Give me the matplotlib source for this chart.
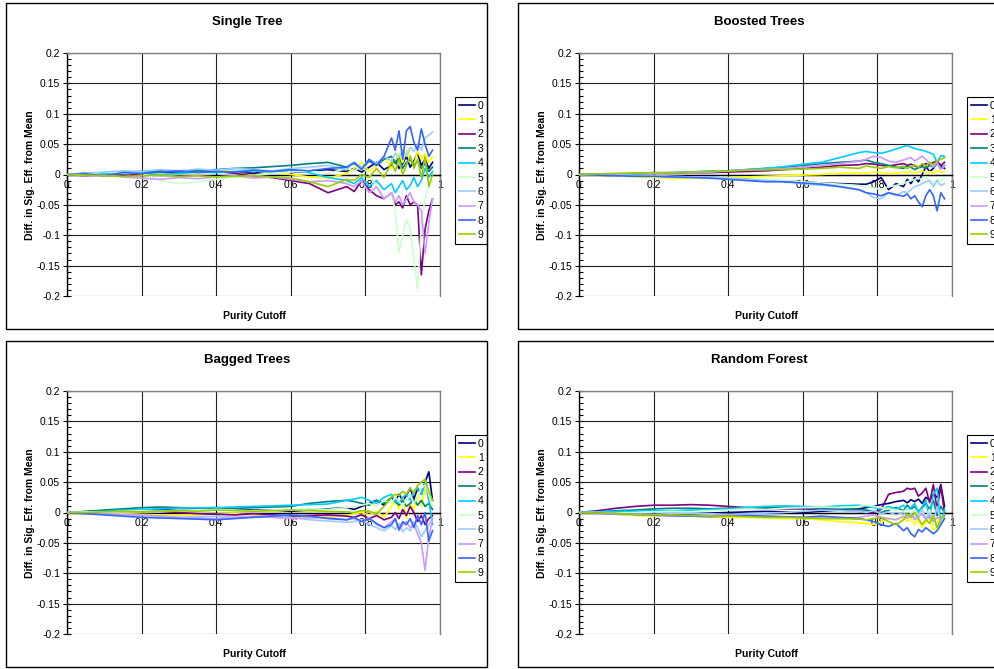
import matplotlib
matplotlib.use('Agg')
import matplotlib.pyplot as plt
from matplotlib.patches import Rectangle
from matplotlib.ticker import MultipleLocator

plt.rcParams['font.family'] = ['Liberation Sans', 'DejaVu Sans']

# purity cutoff points shared by every series
X = [0.00, 0.05, 0.10, 0.15, 0.20, 0.25, 0.30, 0.35, 0.40, 0.45, 0.50, 0.55,
     0.60, 0.65, 0.70, 0.75, 0.77, 0.79, 0.81, 0.83, 0.85, 0.87, 0.88, 0.89,
     0.90, 0.91, 0.92, 0.93, 0.94, 0.95, 0.96, 0.97, 0.98]

SERIES_NAMES = ['0', '1', '2', '3', '4', '5', '6', '7', '8', '9']
COLORS = ['#000080', '#FFFF00', '#800080', '#008080', '#00CCFF',
          '#CCFFCC', '#99CCFF', '#CC99FF', '#3366FF', '#99CC00']

X_TICKS = [0, 0.2, 0.4, 0.6, 0.8, 1]
X_TICK_LABELS = ['0', '0.2', '0.4', '0.6', '0.8', '1']
Y_TICKS = [0.2, 0.15, 0.1, 0.05, 0, -0.05, -0.1, -0.15, -0.2]
Y_TICK_LABELS = ['0.2', '0.15', '0.1', '0.05', '0', '-0.05', '-0.1', '-0.15', '-0.2']

single_tree = [
    [0, .002, .003, .001, .004, .005, .003, .004, .006, .004, .002, .005, .003, .006, .008, .005, .010,
     .004, .012, .020, .008, .015, .025, .010, .018, .030, .012, .022, .035, .015, .025, .010, .020],
    [0, .001, .003, .002, .004, .003, .005, .006, .008, .004, .006, .003, .000, -.004, -.006, .002, .010,
     .020, .005, .015, .030, .010, .025, .035, .020, .040, .030, .015, .038, .025, .035, .020, .030],
    [0, -.002, .001, -.003, .002, .004, .003, .006, .005, .002, -.003, -.005, -.010, -.015, -.030, -.020, -.028,
     -.010, -.025, -.035, -.040, -.030, -.050, -.045, -.055, -.035, -.050, -.045, -.050, -.165, -.090, -.060, -.040],
    [0, .001, .002, .004, .005, .006, .005, .007, .008, .010, .011, .013, .015, .018, .020, .012, .018,
     .010, .022, .015, .025, .030, .018, .028, .010, .020, .025, .015, .022, .010, .018, .005, .012],
    [0, .002, .001, .003, .002, .000, .002, .004, .003, .005, .006, .004, .008, .003, -.005, -.010, -.015,
     -.005, -.020, -.010, -.025, -.015, -.030, -.020, -.010, -.025, -.018, -.005, -.020, -.010, .010, -.005, .005],
    [0, .001, .004, .002, .003, -.010, -.015, -.012, -.008, -.004, -.002, .002, .004, .006, .002, .010, .005,
     .015, .000, -.020, -.040, -.030, -.060, -.128, -.100, -.074, -.090, -.140, -.190, -.080, -.040, -.020, -.010],
    [0, .002, .004, .006, .005, .008, .006, .009, .007, .010, .008, .006, .010, .012, .015, .008, .020,
     .012, .025, .018, .030, .022, .035, .028, .040, .030, .045, .038, .050, .040, .060, .065, .070],
    [0, -.002, -.001, -.004, -.006, -.008, -.005, -.007, -.004, -.002, -.006, -.004, -.008, -.012, -.010, -.015, -.020,
     -.010, -.030, -.020, -.040, -.030, -.045, -.035, -.050, -.040, -.030, -.045, -.050, -.060, -.130, -.080, -.040],
    [0, .001, -.002, .003, .002, .004, .006, .003, .005, .004, .007, .005, .008, .006, .010, .012, .020,
     .008, .025, .015, .030, .060, .040, .072, .025, .072, .079, .053, .040, .075, .050, .030, .040],
    [0, -.001, -.002, -.003, -.002, -.001, -.003, -.002, -.004, -.003, -.002, -.004, -.006, -.012, -.020, -.008, -.010,
     .000, -.005, .010, -.005, .020, .005, .025, .000, .015, .030, .010, .025, -.005, .030, -.020, .000],
]

boosted_trees = [
    [0, -.001, -.002, -.002, -.003, -.003, -.004, -.005, -.006, -.008, -.010, -.011, -.012, -.014, -.015, -.016, -.016,
     -.012, -.005, -.025, -.015, -.020, -.008, -.015, -.005, -.012, .000, .013, .005, .010, .020, .015, .010],
    [0, -.001, -.002, -.004, -.005, -.006, -.006, -.006, -.005, -.004, -.003, -.002, -.001, .000, .002, .003, .002,
     .004, .003, .001, .002, .004, .003, .005, .002, .004, .006, .003, .005, .002, .006, .004, .005],
    [0, .000, .001, .001, .002, .002, .003, .003, .004, .005, .006, .008, .010, .012, .015, .016, .018,
     .017, .015, .014, .016, .018, .015, .017, .014, .012, .015, .018, .016, .020, .022, .015, .020],
    [0, .001, .001, .002, .003, .003, .004, .004, .006, .008, .010, .012, .015, .018, .020, .022, .024,
     .020, .018, .015, .012, .010, .014, .012, .008, .011, .013, .010, .015, .012, .018, .010, .015],
    [0, .000, .001, .001, .002, .003, .004, .006, .006, .008, .010, .013, .017, .020, .028, .036, .038,
     .036, .035, .038, .042, .046, .048, .045, .043, .041, .040, .038, .036, .033, .020, .031, .030],
    [0, -.001, -.001, -.002, -.002, -.003, -.004, -.005, -.006, -.008, -.008, -.010, -.012, -.014, -.016, -.018, -.020,
     -.022, -.025, -.020, -.018, -.015, -.012, -.010, -.008, -.006, -.008, -.004, -.010, -.015, -.008, -.010, -.005],
    [0, -.001, -.002, -.002, -.003, -.004, -.004, -.005, -.006, -.008, -.010, -.012, -.015, -.018, -.020, -.025, -.030,
     -.038, -.040, -.030, -.035, -.028, -.030, -.025, -.020, -.018, -.015, -.012, -.010, -.020, -.010, -.018, -.015],
    [0, .000, .001, .002, .002, .003, .003, .004, .006, .008, .008, .010, .012, .015, .018, .022, .025,
     .030, .028, .022, .020, .024, .026, .028, .022, .026, .030, .025, .018, .012, .020, .008, .015],
    [0, -.001, -.002, -.003, -.003, -.004, -.005, -.006, -.008, -.010, -.012, -.012, -.014, -.016, -.020, -.025, -.030,
     -.032, -.035, -.030, -.033, -.036, -.032, -.040, -.035, -.045, -.053, -.035, -.025, -.035, -.060, -.030, -.040],
    [0, .001, .002, .002, .003, .003, .004, .005, .006, .007, .008, .008, .009, .010, .012, .010, .014,
     .012, .010, .013, .011, .014, .010, .013, .016, .012, .018, .014, .020, .016, .022, .025, .028],
]

bagged_trees = [
    [0, .001, .003, .002, .004, .005, .006, .007, .008, .006, .004, .003, .002, .004, .006, .008, .005,
     .010, .015, .020, .012, .025, .018, .030, .020, .028, .040, .022, .040, .030, .050, .067, .020],
    [0, .000, -.001, -.002, -.003, -.004, -.005, -.004, -.003, -.002, -.004, -.006, -.005, -.008, -.006, -.005, -.002,
     .000, -.004, .002, -.008, .010, .020, .005, .025, -.010, .015, .005, .030, .010, .040, .020, .010],
    [0, .001, .003, .005, .004, .002, .000, -.002, -.003, -.004, -.002, -.004, -.006, -.005, -.004, -.006, -.008,
     -.004, -.010, -.005, -.012, -.008, .000, -.010, .005, -.005, .010, .000, -.015, -.005, -.020, -.010, -.005],
    [0, .002, .004, .006, .008, .009, .008, .007, .006, .007, .008, .009, .010, .015, .018, .020, .018,
     .015, .012, .020, .015, .025, .018, .012, .020, .010, .015, .022, .012, .020, .010, .015, .005],
    [0, .001, .002, .004, .005, .006, .007, .008, .008, .009, .010, .011, .012, .013, .014, .020, .022,
     .025, .020, .015, .025, .030, .020, .015, .025, .030, .020, .035, .040, .030, .050, .020, -.020],
    [0, .001, .000, .002, .003, .002, .004, .003, .005, .004, .003, .002, .004, .006, .005, .008, .010,
     .012, .015, .010, .020, .015, .025, .018, .012, .020, .030, .015, .025, .040, .045, .030, .010],
    [0, -.001, -.003, -.004, -.005, -.006, -.008, -.007, -.006, -.008, -.007, -.006, -.008, -.012, -.014, -.016, -.015,
     -.012, -.020, -.025, -.030, -.022, -.028, -.018, -.032, -.025, -.030, -.015, -.025, -.040, -.030, -.020, -.010],
    [0, -.001, -.002, -.003, -.004, -.006, -.008, -.009, -.010, -.008, -.006, -.008, -.010, -.009, -.008, -.012, -.010,
     -.015, -.008, -.020, -.025, -.015, -.010, -.030, -.020, -.015, -.025, -.020, -.035, -.050, -.095, -.040, -.010],
    [0, -.002, -.004, -.006, -.008, -.009, -.010, -.011, -.012, -.010, -.008, -.006, -.004, -.006, -.010, -.012, -.008,
     -.015, -.010, -.018, -.025, -.020, -.010, -.028, -.015, -.020, -.010, -.025, -.005, -.020, .000, -.047, -.030],
    [0, .000, .001, .002, .001, .002, .003, .002, .004, .003, .002, .003, .004, .003, .002, .001, .000,
     .003, .002, -.002, .010, .025, .030, .028, .035, .030, .040, .032, .045, .050, .055, .035, .020],
]

random_forest = [
    [0, .000, -.001, -.002, -.002, -.003, -.002, -.001, .000, .001, .002, .001, .000, .002, .004, .006, .008,
     .010, .013, .015, .018, .020, .016, .021, .018, .022, .015, .025, .020, .030, .025, .046, .010],
    [0, -.001, -.003, -.005, -.006, -.005, -.006, -.007, -.008, -.008, -.009, -.010, -.010, -.012, -.015, -.017, -.018,
     -.020, -.015, -.010, -.012, -.008, -.015, -.010, -.020, -.012, -.025, -.015, -.010, -.030, -.015, -.005, -.010],
    [0, .003, .007, .010, .012, .012, .013, .012, .010, .008, .007, .006, .006, .005, .004, .002, .000,
     .000, .005, .030, .033, .035, .040, .038, .040, .027, .032, .040, .016, .046, .005, .043, .000],
    [0, .001, .003, .004, .006, .007, .007, .006, .007, .008, .008, .009, .008, .007, .006, .005, .004,
     .002, .000, .004, .008, .003, .012, .006, .010, .002, .008, .015, .005, .020, -.005, .010, .000],
    [0, .001, .002, .002, .003, .003, .004, .005, .006, .008, .010, .011, .010, .009, .011, .012, .010,
     .008, .006, .010, .005, .012, .004, .008, .015, .000, .010, .020, -.010, .030, .040, -.020, .005],
    [0, .000, -.001, .000, .001, .002, .001, .003, .004, .006, .005, .007, .008, .009, .008, .010, .012,
     .010, .008, .006, .004, .002, .006, -.002, .004, -.005, .002, -.010, .005, -.020, -.030, -.015, -.005],
    [0, -.001, -.002, -.002, -.003, -.002, -.001, -.002, -.003, -.002, -.001, .000, .002, .004, .003, .002, .000,
     .003, -.002, .001, -.004, .000, -.006, -.002, -.008, -.003, .005, -.010, .000, -.015, .010, -.020, -.005],
    [0, -.002, -.003, -.004, -.005, -.006, -.006, -.005, -.004, -.005, -.006, -.007, -.008, -.009, -.010, -.008, -.006,
     -.004, -.008, -.010, -.012, -.006, -.010, -.004, -.012, -.008, -.002, -.012, -.005, -.015, -.008, -.010, -.005],
    [0, -.001, -.002, -.003, -.004, -.005, -.006, -.007, -.006, -.005, -.006, -.007, -.008, -.006, -.008, -.010, -.012,
     -.015, -.020, -.023, -.018, -.030, -.025, -.035, -.040, -.028, -.032, -.025, -.030, -.035, -.030, -.020, -.010],
    [0, -.001, -.002, -.003, -.004, -.004, -.005, -.006, -.006, -.007, -.008, -.008, -.009, -.010, -.010, -.011, -.012,
     -.010, -.008, -.015, -.020, -.012, -.002, -.008, .000, -.010, -.020, -.012, -.018, -.005, -.025, -.010, -.005],
]

PANELS = [
    ('Single Tree', single_tree, 6, 3),
    ('Boosted Trees', boosted_trees, 518, 3),
    ('Bagged Trees', bagged_trees, 6, 341),
    ('Random Forest', random_forest, 518, 341),
]

W, H = 995, 669
PW, PH = 481, 326


def fx(px):
    return px / W


def fy(py):
    return 1 - py / H


def main():
    fig = plt.figure(figsize=(W / 100, H / 100), dpi=100)
    fig.patch.set_facecolor('white')

    for title, data, left, top in PANELS:
        # chart area frame
        fig.patches.append(Rectangle((fx(left), fy(top + PH)), PW / W, PH / H,
                                     transform=fig.transFigure, fill=False,
                                     edgecolor='black', linewidth=1.0, zorder=0))

        ax = fig.add_axes([fx(left + 61), fy(top + 293), 373 / W, 243 / H])
        ax.set_facecolor('white')
        lines = []
        for vals, color in zip(data, COLORS):
            ln, = ax.plot(X, vals, color=color, linewidth=1.2, zorder=3)
            lines.append(ln)

        ax.set_xlim(0, 1)
        ax.set_ylim(-0.2, 0.2)
        ax.set_xticks(X_TICKS)
        ax.set_xticklabels(X_TICK_LABELS)
        ax.set_yticks(Y_TICKS)
        ax.set_yticklabels(Y_TICK_LABELS)
        ax.yaxis.set_minor_locator(MultipleLocator(0.01))

        ax.grid(True, which='major', color='#202020', linewidth=0.8)
        ax.spines['bottom'].set_position(('data', 0))
        ax.spines['bottom'].set_color('black')
        ax.spines['left'].set_color('black')
        ax.spines['top'].set_color('#808080')
        ax.spines['right'].set_color('#808080')
        for sp in ax.spines.values():
            sp.set_linewidth(1.0)

        ax.tick_params(axis='both', which='major', direction='inout', length=6,
                       width=0.8, labelsize=7.5, colors='black')
        ax.tick_params(axis='y', which='minor', direction='in', length=3, width=0.8)
        ax.tick_params(axis='x', which='major', pad=1)
        ax.tick_params(axis='y', which='major', pad=2)

        fig.text(fx(left + 241), fy(top + 19), title, ha='center', va='center',
                 fontsize=9.5, fontweight='bold')
        fig.text(fx(left + 248), fy(top + 313), 'Purity Cutoff', ha='center',
                 va='center', fontsize=7.5, fontweight='bold')
        fig.text(fx(left + 24), fy(top + 172), 'Diff. in Sig. Eff. from Mean',
                 ha='center', va='center', rotation=90, fontsize=7.5,
                 fontweight='bold')

        leg = ax.legend(lines, SERIES_NAMES, loc='upper left',
                        bbox_to_anchor=(fx(left + 449), fy(top + 94)),
                        bbox_transform=fig.transFigure, borderaxespad=0,
                        fontsize=7.5, handlelength=1.6, handletextpad=0.25,
                        borderpad=0.35, labelspacing=0.42, fancybox=False,
                        framealpha=1, edgecolor='black')
        leg.get_frame().set_linewidth(0.8)

    plt.savefig('out.png', dpi=100, facecolor='white')


if __name__ == '__main__':
    main()
